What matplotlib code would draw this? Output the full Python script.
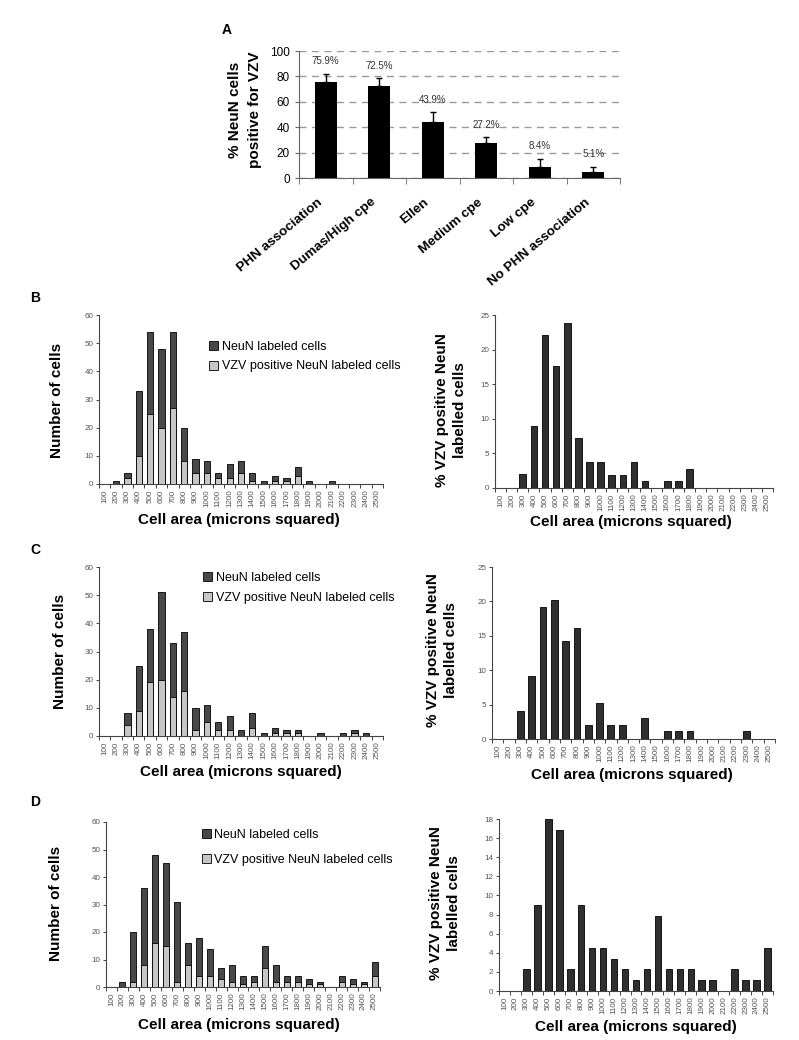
import matplotlib
matplotlib.use('Agg')
import matplotlib.pyplot as plt
import numpy as np

plt.rcParams['font.family'] = ['Liberation Sans', 'DejaVu Sans']

# ---------------- data ----------------
a_categories = ["PHN association", "Dumas/High cpe", "Ellen", "Medium cpe",
                "Low cpe", "No PHN association"]
a_values = [75.9, 72.5, 43.9, 27.2, 8.4, 5.1]
a_errors = [6.0, 6.2, 8.0, 5.0, 6.6, 3.6]
a_labels = ["75.9%", "72.5%", "43.9%", "27.2%", "8.4%", "5.1%"]

area_bins = ["100", "200", "300", "400", "500", "600", "700", "800", "900",
             "1000", "1100", "1200", "1300", "1400", "1500", "1600", "1700",
             "1800", "1900", "2000", "2100", "2200", "2300", "2400", "2500"]

b_neun = [0, 1, 4, 33, 54, 48, 54, 20, 9, 8, 4, 7, 8, 4, 1, 3, 2, 6, 1, 0, 1, 0, 0, 0, 0]
b_vzv = [0, 0, 2, 10, 25, 20, 27, 8, 4, 4, 2, 2, 4, 1, 0, 1, 1, 3, 0, 0, 0, 0, 0, 0, 0]
b_pct = [0, 0, 2.0, 9.0, 22.1, 17.7, 23.8, 7.2, 3.7, 3.7, 1.9, 1.9, 3.7, 1.0,
         0, 1.0, 1.0, 2.8, 0, 0, 0, 0, 0, 0, 0]

c_neun = [0, 0, 8, 25, 38, 51, 33, 37, 10, 11, 5, 7, 2, 8, 1, 3, 2, 2, 0, 1, 0, 1, 2, 1, 0]
c_vzv = [0, 0, 4, 9, 19, 20, 14, 16, 2, 5, 2, 2, 0, 3, 0, 1, 1, 1, 0, 0, 0, 0, 1, 0, 0]
c_pct = [0, 0, 4.1, 9.2, 19.2, 20.2, 14.2, 16.2, 2.1, 5.2, 2.1, 2.1, 0, 3.1,
         0, 1.1, 1.1, 1.1, 0, 0, 0, 0, 1.1, 0, 0]

d_neun = [0, 2, 20, 36, 48, 45, 31, 16, 18, 14, 7, 8, 4, 4, 15, 8, 4, 4, 3, 2, 0, 4, 3, 2, 9]
d_vzv = [0, 0, 2, 8, 16, 15, 2, 8, 4, 4, 3, 2, 1, 2, 7, 2, 2, 2, 1, 1, 0, 2, 1, 1, 4]
d_pct = [0, 0, 2.3, 9.0, 18.0, 16.9, 2.3, 9.0, 4.5, 4.5, 3.4, 2.3, 1.1, 2.3,
         7.9, 2.3, 2.3, 2.3, 1.1, 1.1, 0, 2.3, 1.1, 1.1, 4.5]

# ---------------- figure ----------------
W, H = 799, 1040
fig = plt.figure(figsize=(W / 100, H / 100), dpi=100)


def px_axes(x0, y0, x1, y1):
    return fig.add_axes([x0 / W, 1 - y1 / H, (x1 - x0) / W, (y1 - y0) / H])


def ftext(x, y, s, **kw):
    fig.text(x / W, 1 - y / H, s, **kw)


DARK = '#484848'
LIGHT = '#c6c6c6'
RIGHT = '#2f2f2f'
TICKC = '#555555'

# ---------------- panel A ----------------
axA = px_axes(299, 51, 620, 178)
xa = np.arange(len(a_categories))
axA.bar(xa, a_values, width=0.41, color='black', zorder=3)
axA.errorbar(xa, a_values, yerr=[np.zeros(len(a_errors)), a_errors], fmt='none',
             ecolor='black', elinewidth=1.0, capsize=2.5, capthick=1.0, zorder=4)
for xi, v, e, lab in zip(xa, a_values, a_errors, a_labels):
    axA.annotate(lab, (xi, v + e), xytext=(0, 9), textcoords='offset points',
                 ha='center', va='center', fontsize=7, color='#333333')
axA.set_xlim(-0.5, len(a_categories) - 0.5)
axA.set_ylim(0, 100)
axA.set_yticks(range(0, 101, 20))
axA.yaxis.grid(True, linestyle=(0, (5, 4)), color='#999999', linewidth=1.0, zorder=0)
axA.set_axisbelow(True)
axA.set_xticks(xa)
axA.set_xticklabels([])
for xi, cat in zip(xa, a_categories):
    axA.annotate(cat, xy=(xi, 0), xycoords=('data', 'axes fraction'),
                 xytext=(-6.5, -13), textcoords='offset points',
                 rotation=40, rotation_mode='anchor', ha='right', va='top',
                 fontweight='bold', fontsize=9.7, annotation_clip=False)
axA.set_xticks(np.arange(-0.5, len(a_categories)), minor=True)
axA.tick_params(axis='x', which='major', length=0)
axA.tick_params(axis='x', which='minor', length=4, color='#666666')
axA.tick_params(axis='y', labelsize=8.5, length=3, color='#666666')
for s in ['top', 'right']:
    axA.spines[s].set_visible(False)
axA.spines['left'].set_color('#666666')
axA.spines['bottom'].set_color('#666666')
ftext(227, 30, 'A', fontsize=10, fontweight='bold', ha='center', va='center')
ftext(245, 110, '% NeuN cells\npositive for VZV', fontsize=11, fontweight='bold',
      rotation=90, ha='center', va='center', linespacing=1.5)


# ---------------- histogram helpers ----------------
def style_hist(ax, ymax, ystep):
    n = len(area_bins)
    x = np.arange(n)
    ax.set_xlim(-0.5, n - 0.5)
    ax.set_ylim(0, ymax)
    ax.set_yticks(np.arange(0, ymax + 0.01, ystep))
    ax.set_xticks(x)
    ax.set_xticklabels(area_bins, rotation=90, fontsize=5.8, color=TICKC)
    ax.set_xticks(np.arange(-0.5, n), minor=True)
    ax.tick_params(axis='x', which='major', length=0, pad=4)
    ax.tick_params(axis='x', which='minor', length=3, color='#444444', width=0.7)
    ax.tick_params(axis='y', labelsize=5.8, labelcolor=TICKC, length=2.5,
                   color='#444444', width=0.7, pad=1.5)
    for s in ['top', 'right']:
        ax.spines[s].set_visible(False)
    for s in ['left', 'bottom']:
        ax.spines[s].set_color('#444444')
        ax.spines[s].set_linewidth(0.8)


def hist_left(box, neun, vzv, leg_xy, leg_spacing):
    ax = px_axes(*box)
    x = np.arange(len(area_bins))
    ax.bar(x, neun, width=0.55, color=DARK, edgecolor='black', linewidth=0.6,
           label='NeuN labeled cells', zorder=3)
    ax.bar(x, vzv, width=0.55, color=LIGHT, edgecolor='black', linewidth=0.6,
           label='VZV positive NeuN labeled cells', zorder=4)
    style_hist(ax, 60, 10)
    ax.legend(loc='upper left', bbox_to_anchor=(leg_xy[0] / W, 1 - leg_xy[1] / H),
              bbox_transform=fig.transFigure, frameon=False, fontsize=9,
              handlelength=0.75, handleheight=0.75, handletextpad=0.25,
              borderpad=0, borderaxespad=0, labelspacing=leg_spacing)
    return ax


def hist_right(box, pct, ymax, ystep):
    ax = px_axes(*box)
    x = np.arange(len(area_bins))
    ax.bar(x, pct, width=0.6, color=RIGHT, edgecolor='black', linewidth=0.6, zorder=3)
    style_hist(ax, ymax, ystep)
    return ax


def labels(letter, lpos, xl_left, yl_left, xl_right, yl_right):
    ftext(lpos[0], lpos[1], letter, fontsize=10, fontweight='bold', ha='center', va='center')
    ftext(yl_left[0], yl_left[1], 'Number of cells', fontsize=11, fontweight='bold',
          rotation=90, ha='center', va='center')
    ftext(xl_left[0], xl_left[1], 'Cell area (microns squared)', fontsize=11,
          fontweight='bold', ha='center', va='center')
    ftext(yl_right[0], yl_right[1], '% VZV positive NeuN\nlabelled cells', fontsize=11,
          fontweight='bold', rotation=90, ha='center', va='center', linespacing=1.3)
    ftext(xl_right[0], xl_right[1], 'Cell area (microns squared)', fontsize=11,
          fontweight='bold', ha='center', va='center')


# ---------------- panel B ----------------
hist_left((99, 315, 383, 484), b_neun, b_vzv, (209, 341), 0.6)
hist_right((495, 315, 773, 488), b_pct, 25, 5)
labels('B', (35, 298), (239, 520), (57, 400), (631, 522), (451, 410))

# ---------------- panel C ----------------
hist_left((99, 567, 383, 736), c_neun, c_vzv, (203, 572), 0.6)
hist_right((492, 567, 775, 739), c_pct, 25, 5)
labels('C', (35, 550), (241, 772), (60, 651), (632, 775), (442, 650))

# ---------------- panel D ----------------
hist_left((106, 822, 380, 987), d_neun, d_vzv, (202, 829), 1.0)
hist_right((499, 819, 773, 991), d_pct, 18, 2)
labels('D', (35, 802), (239, 1025), (56, 903), (636, 1027), (445, 903))

fig.savefig('out.png', dpi=100)
